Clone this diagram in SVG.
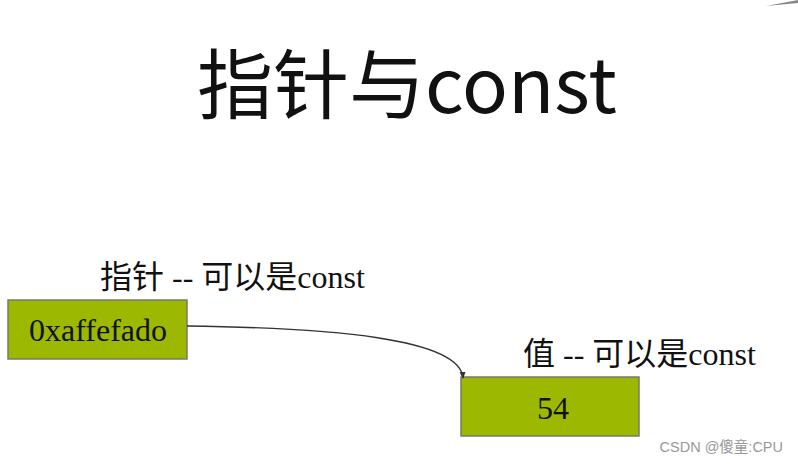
<svg xmlns="http://www.w3.org/2000/svg" width="798" height="464" viewBox="0 0 798 464">
<style>
.lbl{font-family:"Liberation Serif","Noto Sans CJK SC",serif;font-size:32px;fill:#111}
.box{fill:#9cb800;stroke:#7a7a6a;stroke-width:1.5}
.bt{font-family:"Liberation Serif",serif;font-size:32px;fill:#111;text-anchor:middle}
.conn{fill:none;stroke:#333;stroke-width:1.3}
</style>
<defs>
<marker id="arr" markerWidth="8" markerHeight="8" refX="6" refY="4" orient="auto" markerUnits="userSpaceOnUse">
<path d="M0,1 L7,4 L0,7 z" fill="#333"/>
</marker>
</defs>
<rect width="798" height="464" fill="#fff"/>
<polygon points="766,6 798,0 798,3" fill="#888"/>
<text x="197" y="113" font-family="'Noto Sans CJK SC',sans-serif" font-size="76" fill="#111">指针与const</text>
<g id="pointer">
<text class="lbl" x="100" y="288">指针 -- 可以是const</text>
<rect class="box" x="8" y="300" width="179" height="59"/>
<text class="bt" x="98" y="341">0xaffefado</text>
</g>
<g id="value">
<text class="lbl" x="523" y="365">值 -- 可以是const</text>
<rect class="box" x="461" y="377" width="178" height="59"/>
<text class="bt" x="553" y="419">54</text>
</g>
<g id="connectors">
<path class="conn" d="M187,326 C330,328 460,338 463,378" marker-end="url(#arr)"/>
</g>
<text x="783" y="452" text-anchor="end" font-family="'Liberation Sans','Noto Sans CJK SC',sans-serif" font-size="14.5" fill="#999">CSDN @傻童:CPU</text>
</svg>
